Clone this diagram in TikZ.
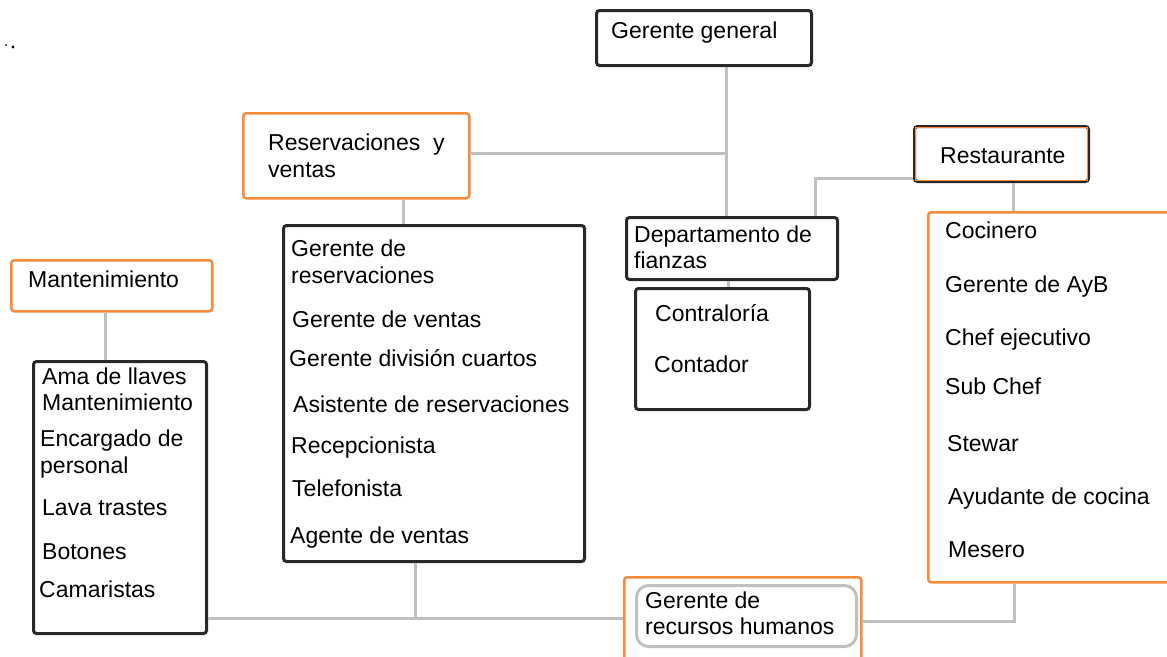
\documentclass[tikz,border=0pt]{standalone}
\usepackage{fontspec}
\setmainfont{Liberation Sans}
\usetikzlibrary{calc}
\definecolor{orng}{RGB}{247,140,60}
\definecolor{connc}{RGB}{192,192,192}
\definecolor{dark}{RGB}{40,40,40}
\tikzset{
  darkbox/.style={draw=dark, line width=3pt, rounded corners=3pt, anchor=north west, inner sep=0pt},
  orbox/.style={draw=orng, line width=2.5pt, rounded corners=3pt, anchor=north west, inner sep=0pt},
  lbl/.style={anchor=base west, inner sep=0pt, font=\fontsize{23}{27}\selectfont},
  connector/.style={draw=connc, line width=3pt}
}
\begin{document}
\begin{tikzpicture}[x=1pt,y=-1pt]
\useasboundingbox (0,0) rectangle (1167,656);
\clip (0,0) rectangle (1167,656);
% stray dots
\fill (6,45) circle (1);
\fill (13,47) circle (1.6);
% boxes
\node[darkbox, minimum width=215pt, minimum height=55pt] (gg) at (595,9) {};
\node[orbox, minimum width=226pt, minimum height=85pt] (res) at (242,112) {};
\node[darkbox, minimum width=301pt, minimum height=336pt] (resl) at (282,224) {};
\node[orbox, minimum width=201pt, minimum height=51pt] (mant) at (10,259) {};
\node[darkbox, minimum width=173pt, minimum height=272pt] (mantl) at (32,360) {};
\node[orbox, minimum width=237pt, minimum height=95pt] (rh) at (623,576) {};
\node[draw=connc, line width=3pt, rounded corners=12pt, anchor=north west, inner sep=0pt, minimum width=220pt, minimum height=61pt] (rhin) at (635,584) {};
\node[darkbox, minimum width=174pt, minimum height=55pt] (rest) at (913,125) {};
\draw[orng, line width=1.2pt] ([xshift=2.5pt,yshift=-2.5pt]rest.north west) rectangle ([xshift=-2.5pt,yshift=2.5pt]rest.south east);
\node[orbox, minimum width=260pt, minimum height=370pt] (restl) at (927,211) {};
\node[darkbox, minimum width=211pt, minimum height=62pt] (dep) at (625,216) {};
\node[darkbox, minimum width=174pt, minimum height=121pt] (cont) at (634,287) {};
% connectors
\coordinate (j1) at (726,153);
\draw[connector] (gg.south -| j1) -- (dep.north -| j1);
\draw[connector] (res.east |- j1) -- (j1);
\coordinate (c2) at (403,0);
\draw[connector] (res.south -| c2) -- (resl.north -| c2);
\coordinate (c3) at (105,0);
\draw[connector] (mant.south -| c3) -- (mantl.north -| c3);
\coordinate (bus) at (415,618);
\draw[connector] (mantl.east |- bus) -- (rh.west |- bus);
\draw[connector] (resl.south -| bus) -- (bus);
\coordinate (c4) at (1014,621);
\draw[connector] (rh.east |- c4) -- (c4) -- (restl.south -| c4);
\coordinate (c5) at (1013,0);
\draw[connector] (rest.south -| c5) -- (restl.north -| c5);
\coordinate (c6) at (815,178);
\draw[connector] (rest.west |- c6) -- (c6) -- (dep.north -| c6);
\coordinate (c7) at (728,0);
\draw[connector] (dep.south -| c7) -- (cont.north -| c7);
% labels
\node[lbl] (tgg) at (611,38) {Gerente general};
\node[lbl] (tres1) at (268,150) {Reservaciones\ \ y};
\node[lbl] (tres2) at (268,177) {ventas};
\node[lbl] (tr1) at (291,256) {Gerente de};
\node[lbl] (tr2) at (291,283) {reservaciones};
\node[lbl] (tr3) at (292,327) {Gerente de ventas};
\node[lbl] (tr4) at (289,366) {Gerente división cuartos};
\node[lbl] (tr5) at (293,412) {Asistente de reservaciones};
\node[lbl] (tr6) at (291,453) {Recepcionista};
\node[lbl] (tr7) at (292,496) {Telefonista};
\node[lbl] (tr8) at (290,543) {Agente de ventas};
\node[lbl] (tmant) at (28,287) {Mantenimiento};
\node[lbl] (tm1) at (42,384) {Ama de llaves};
\node[lbl] (tm2) at (42,410) {Mantenimiento};
\node[lbl] (tm3) at (40,446) {Encargado de};
\node[lbl] (tm4) at (40,473) {personal};
\node[lbl] (tm5) at (42,515) {Lava trastes};
\node[lbl] (tm6) at (42,559) {Botones};
\node[lbl] (tm7) at (39,597) {Camaristas};
\node[lbl] (trh1) at (645,608) {Gerente de};
\node[lbl] (trh2) at (645,634) {recursos humanos};
\node[lbl] (trest) at (940,163) {Restaurante};
\node[lbl] (tc1) at (945,238) {Cocinero};
\node[lbl] (tc2) at (945,292) {Gerente de AyB};
\node[lbl] (tc3) at (945,345) {Chef ejecutivo};
\node[lbl] (tc4) at (945,394) {Sub Chef};
\node[lbl] (tc5) at (947,451) {Stewar};
\node[lbl] (tc6) at (948,504) {Ayudante de cocina};
\node[lbl] (tc7) at (948,557) {Mesero};
\node[lbl] (td1) at (634,242) {Departamento de};
\node[lbl] (td2) at (634,268) {fianzas};
\node[lbl] (tk1) at (655,321) {Contraloría};
\node[lbl] (tk2) at (654,372) {Contador};
\end{tikzpicture}
\end{document}
